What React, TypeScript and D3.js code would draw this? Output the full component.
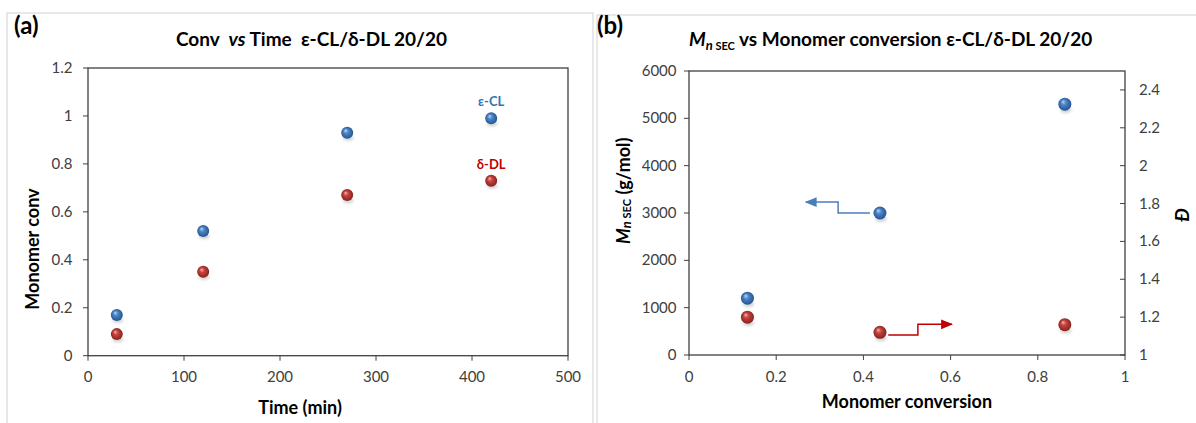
import React from 'react'
import * as d3 from 'd3'

// panel (a): conversion vs time
const timeMin = [30, 120, 270, 420]
const convCL = [0.17, 0.52, 0.93, 0.99]
const convDL = [0.09, 0.35, 0.67, 0.73]
const timeTicks = [0, 100, 200, 300, 400, 500]
const convTicks = [0, 0.2, 0.4, 0.6, 0.8, 1, 1.2]

// panel (b): Mn SEC and dispersity vs conversion
const monoConv = [0.134, 0.438, 0.862]
const mnSec = [1200, 3000, 5300]
const dispersity = [1.2, 1.12, 1.16]
const convBTicks = [0, 0.2, 0.4, 0.6, 0.8, 1]
const mnTicks = [0, 1000, 2000, 3000, 4000, 5000, 6000]
const dispTicks = [1, 1.2, 1.4, 1.6, 1.8, 2, 2.2, 2.4]

// annotation arrows (data coords)
const arrowMn: [number, number][] = [[0.415, 3000], [0.342, 3000], [0.342, 3230], [0.268, 3230]]
const arrowD: [number, number][] = [[0.457, 1.106], [0.525, 1.106], [0.525, 1.162], [0.603, 1.162]]

const FONT = 'Lato, "Open Sans", sans-serif'
const AX = '#404040'
const TICKC = '#404040'
const TICK_FS = 15

const xA = d3.scaleLinear().domain([0, 500]).range([88, 568])
const yA = d3.scaleLinear().domain([0, 1.2]).range([355.7, 68])
const xB = d3.scaleLinear().domain([0, 1]).range([689, 1125])
const yBL = d3.scaleLinear().domain([0, 6000]).range([355, 71])
const yBR = d3.scaleLinear().domain([1, 2.5]).range([355, 71])

const line = d3.line()

function Ball({ cx, cy, r, fill }: { cx: number; cy: number; r: number; fill: string }) {
  return (
    <g>
      <ellipse cx={cx + 1} cy={cy + r * 0.9} rx={r * 0.9} ry={r * 0.45} fill="#000" opacity={0.18} filter="url(#blur)" />
      <circle cx={cx} cy={cy} r={r} fill={`url(#${fill})`} />
    </g>
  )
}

export default function App() {
  const fmt = (d: number) => String(d)
  return (
    <div style={{ position: 'absolute', left: 0, top: 0 }}>
      <svg width={1196} height={423} style={{ display: 'block', background: '#fff' }} fontFamily={FONT}>
        <defs>
          <radialGradient id="gBlue" cx="50%" cy="50%" r="55%" fx="35%" fy="30%">
            <stop offset="0%" stopColor="#BFD7F0" />
            <stop offset="35%" stopColor="#4F86C6" />
            <stop offset="100%" stopColor="#1E4E8C" />
          </radialGradient>
          <radialGradient id="gRed" cx="50%" cy="50%" r="55%" fx="35%" fy="30%">
            <stop offset="0%" stopColor="#F2B8B5" />
            <stop offset="35%" stopColor="#C9443F" />
            <stop offset="100%" stopColor="#7E1E1B" />
          </radialGradient>
          <filter id="blur" x="-50%" y="-50%" width="200%" height="200%">
            <feGaussianBlur stdDeviation="1.5" />
          </filter>
          <marker id="arrB" viewBox="0 0 10 10" refX="9" refY="5" markerWidth="8" markerHeight="8" orient="auto">
            <path d="M0,1 L10,5 L0,9 z" fill="#4A7EBB" />
          </marker>
          <marker id="arrR" viewBox="0 0 10 10" refX="9" refY="5" markerWidth="8" markerHeight="8" orient="auto">
            <path d="M0,1 L10,5 L0,9 z" fill="#C00000" />
          </marker>
        </defs>

        {/* panel frames */}
        <rect x={7} y={13} width={586} height={430} fill="none" stroke="#D9D9D9" strokeWidth={1.2} />
        <rect x={597} y={15} width={620} height={430} fill="none" stroke="#D9D9D9" strokeWidth={1.2} />

        {/* ---------- panel (a) ---------- */}
        <text x={14} y={34} fontSize={24} fontWeight="bold" fill="#000">(a)</text>
        <text x={176} y={46} fontSize={19} fontWeight="bold" fill="#000" style={{ whiteSpace: 'pre' }}>
          Conv  <tspan fontStyle="italic">vs</tspan> Time  ε-CL/δ-DL 20/20
        </text>

        <rect x={xA(0)} y={yA(1.2)} width={xA(500) - xA(0)} height={yA(0) - yA(1.2)} fill="none" stroke={AX} strokeWidth={1.3} />
        {convTicks.map(t => (
          <g key={'ya' + t}>
            <line x1={xA(0) - 5} x2={xA(0)} y1={yA(t)} y2={yA(t)} stroke={AX} />
            <text x={72.5} y={yA(t) + 5} fontSize={TICK_FS} textAnchor="end" fill={TICKC}>{fmt(t)}</text>
          </g>
        ))}
        {timeTicks.map(t => (
          <g key={'xa' + t}>
            <line x1={xA(t)} x2={xA(t)} y1={yA(0)} y2={yA(0) + 5} stroke={AX} />
            <text x={xA(t)} y={382} fontSize={TICK_FS} textAnchor="middle" fill={TICKC}>{fmt(t)}</text>
          </g>
        ))}
        <text transform="translate(32,249) rotate(-90)" fontSize={18} fontWeight="bold" textAnchor="middle" dominantBaseline="central" fill="#000">Monomer conv</text>
        <text x={300} y={414} fontSize={18} fontWeight="bold" textAnchor="middle" fill="#000">Time (min)</text>

        {timeMin.map((t, i) => (
          <Ball key={'cl' + i} cx={xA(t)} cy={yA(convCL[i])} r={6} fill="gBlue" />
        ))}
        {timeMin.map((t, i) => (
          <Ball key={'dl' + i} cx={xA(t)} cy={yA(convDL[i])} r={6} fill="gRed" />
        ))}
        <text x={xA(timeMin[3])} y={yA(convCL[3]) - 12} fontSize={13} fontWeight="bold" textAnchor="middle" fill="#2E75B6">ε-CL</text>
        <text x={xA(timeMin[3])} y={yA(convDL[3]) - 12} fontSize={13} fontWeight="bold" textAnchor="middle" fill="#C00000">δ-DL</text>

        {/* ---------- panel (b) ---------- */}
        <text x={597} y={34} fontSize={24} fontWeight="bold" fill="#000">(b)</text>
        <text x={689} y={46} fontSize={19} fontWeight="bold" fill="#000" style={{ whiteSpace: 'pre' }}>
          <tspan fontStyle="italic">M</tspan>
          <tspan fontStyle="italic" fontSize={13} dy={4}>n</tspan>
          <tspan fontSize={11}> SEC</tspan>
          <tspan dy={-4}> vs Monomer conversion ε-CL/δ-DL 20/20</tspan>
        </text>

        <rect x={xB(0)} y={yBL(6000)} width={xB(1) - xB(0)} height={yBL(0) - yBL(6000)} fill="none" stroke={AX} strokeWidth={1.3} />
        {mnTicks.map(t => (
          <g key={'yb' + t}>
            <line x1={xB(0) - 5} x2={xB(0)} y1={yBL(t)} y2={yBL(t)} stroke={AX} />
            <text x={676.5} y={yBL(t) + 5} fontSize={TICK_FS} textAnchor="end" fill={TICKC}>{fmt(t)}</text>
          </g>
        ))}
        {dispTicks.map(t => (
          <g key={'yr' + t}>
            <line x1={xB(1) - 5} x2={xB(1)} y1={yBR(t)} y2={yBR(t)} stroke={AX} />
            <text x={1139} y={yBR(t) + 5} fontSize={TICK_FS} textAnchor="start" fill={TICKC}>{d3.format('~g')(t)}</text>
          </g>
        ))}
        {convBTicks.map(t => (
          <g key={'xb' + t}>
            <line x1={xB(t)} x2={xB(t)} y1={yBL(0)} y2={yBL(0) + 5} stroke={AX} />
            <text x={xB(t)} y={382} fontSize={TICK_FS} textAnchor="middle" fill={TICKC}>{fmt(t)}</text>
          </g>
        ))}
        <text transform="translate(623,244) rotate(-90)" fontSize={18} fontWeight="bold" dominantBaseline="central" fill="#000" style={{ whiteSpace: 'pre' }}>
          <tspan fontStyle="italic">M</tspan>
          <tspan fontStyle="italic" fontSize={13} dy={3}>n</tspan>
          <tspan fontSize={11}> SEC</tspan>
          <tspan dy={-3}> (g/mol)</tspan>
        </text>
        <text transform="translate(1181,215) rotate(-90)" fontSize={19} fontWeight="bold" fontStyle="italic" textAnchor="middle" dominantBaseline="central" fill="#000">Đ</text>
        <text x={907} y={408} fontSize={18} fontWeight="bold" textAnchor="middle" fill="#000">Monomer conversion</text>

        <path d={line(arrowMn.map(([a, b]) => [xB(a), yBL(b)]) as [number, number][]) || ''} fill="none" stroke="#4A7EBB" strokeWidth={1.5} markerEnd="url(#arrB)" />
        <path d={line(arrowD.map(([a, b]) => [xB(a), yBR(b)]) as [number, number][]) || ''} fill="none" stroke="#C00000" strokeWidth={1.5} markerEnd="url(#arrR)" />

        {monoConv.map((c, i) => (
          <Ball key={'mn' + i} cx={xB(c)} cy={yBL(mnSec[i])} r={6.5} fill="gBlue" />
        ))}
        {monoConv.map((c, i) => (
          <Ball key={'dd' + i} cx={xB(c)} cy={yBR(dispersity[i])} r={6.5} fill="gRed" />
        ))}
      </svg>
    </div>
  )
}
